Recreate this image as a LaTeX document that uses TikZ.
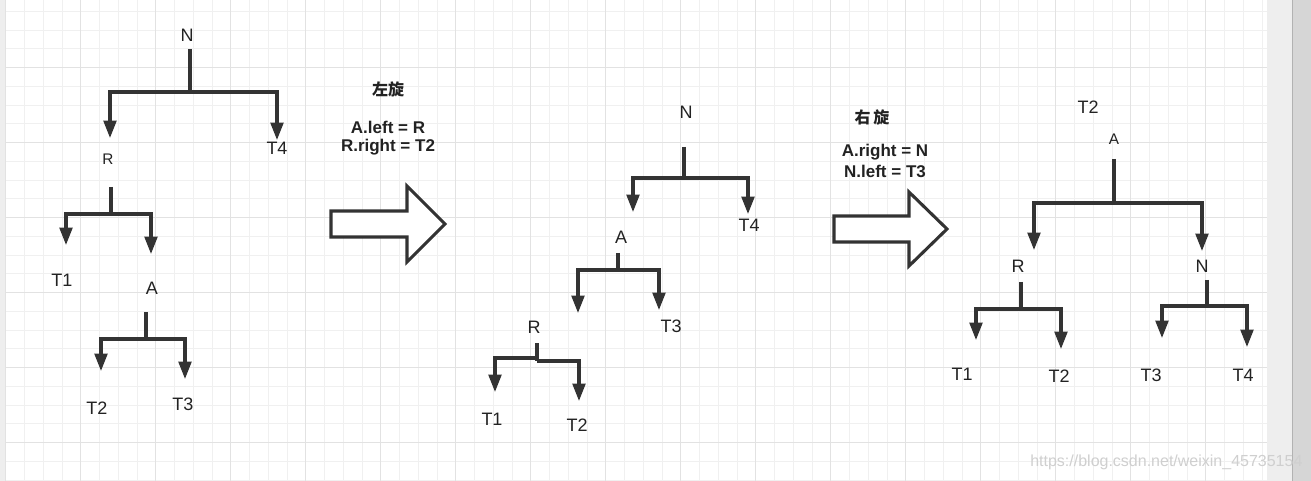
\documentclass[tikz,border=0pt]{standalone}
\usepackage{fontspec}
\setmainfont{Liberation Sans}
\newfontfamily\cjk{Noto Sans CJK SC}
\usetikzlibrary{arrows.meta}
\definecolor{minorgrid}{HTML}{F0F0F0}
\definecolor{majorgrid}{HTML}{E2E2E2}
\definecolor{ink}{HTML}{333333}
\definecolor{txt}{HTML}{222222}
\definecolor{side}{HTML}{EEEEEE}
\definecolor{bar}{HTML}{D6D6D6}
\definecolor{wm}{HTML}{CFCFCF}
\tikzset{
  lbl/.style={font=\fontsize{13.5}{16}\selectfont, text=txt, inner sep=0pt},
  slbl/.style={font=\fontsize{11.5}{14}\selectfont, text=txt, inner sep=0pt},
  note/.style={font=\fontsize{12.75}{15}\selectfont\bfseries, text=txt, inner sep=0pt, align=center},
  cnote/.style={font=\cjk\bfseries\fontsize{12}{14}\selectfont, text=txt, inner sep=0pt},
  line/.style={draw=ink, line width=2.3pt},
  arr/.style={line, -{Triangle[length=13pt,width=9.5pt]}},
  block/.style={draw=ink, line width=2.3pt, fill=white, line join=miter},
}
\begin{document}
\begin{tikzpicture}[x=0.75pt,y=-0.75pt]
\useasboundingbox (0,0) rectangle (1311,481);
% background
\fill[white] (0,0) rectangle (1267,481);
\foreach \k [evaluate=\k as \xx using 5.8+18.75*\k] in {0,...,67}
  \draw[minorgrid, line width=0.75pt] (\xx,0) -- (\xx,481);
\foreach \k [evaluate=\k as \yy using 11.45+18.75*\k] in {0,...,25}
  \draw[minorgrid, line width=0.75pt] (0,\yy) -- (1267,\yy);
\foreach \k [evaluate=\k as \xx using 5.8+18.75*\k] in {0,4,...,64}
  \draw[majorgrid, line width=0.75pt] (\xx,0) -- (\xx,481);
\foreach \k [evaluate=\k as \yy using 11.45+18.75*\k] in {3,7,...,23}
  \draw[majorgrid, line width=0.75pt] (0,\yy) -- (1267,\yy);
\fill[side] (0,0) rectangle (5,481);
\fill[side] (1267,0) rectangle (1292,481);
\fill[bar] (1292,0) rectangle (1311,481);
\draw[gray!60, line width=0.75pt] (1292.5,0) -- (1292.5,481);

% ---------- tree 1 ----------
\node[lbl]  (aN)  at (187,35)  {N};
\node[slbl] (aR)  at (108,159) {R};
\node[lbl]  (aT4) at (277,148) {T4};
\node[lbl]  (aT1) at (62,280)  {T1};
\node[lbl]  (aA)  at (152,288) {A};
\node[lbl]  (aT2) at (97,408)  {T2};
\node[lbl]  (aT3) at (183,404) {T3};
\coordinate (aNs) at (190,49);  \coordinate (aNj) at (190,92);
\coordinate (aRt) at (110,138); \coordinate (aT4t) at (277,140);
\coordinate (aRs) at (111,187); \coordinate (aRj) at (111,214);
\coordinate (aT1t) at (66,245); \coordinate (aAt) at (151,254);
\coordinate (aAs) at (146,312); \coordinate (aAj) at (146,339);
\coordinate (aT2t) at (101,371); \coordinate (aT3t) at (185,379);
\draw[line] (aNs) -- (aNj);
\draw[arr] (aNj) -| (aRt);
\draw[arr] (aNj) -| (aT4t);
\draw[line] (aRs) -- (aRj);
\draw[arr] (aRj) -| (aT1t);
\draw[arr] (aRj) -| (aAt);
\draw[line] (aAs) -- (aAj);
\draw[arr] (aAj) -| (aT2t);
\draw[arr] (aAj) -| (aT3t);

% ---------- arrow 1 ----------
\node[cnote] (l1) at (388,89) {左旋};
\node[note]  (l1a) at (388,127) {A.left = R};
\node[note]  (l1b) at (388,147) {R.right = T2};
\draw[block] (331,211) -- (407,211) -- (407,186) -- (445,224) -- (407,262) -- (407,237) -- (331,237) -- cycle;

% ---------- tree 2 ----------
\node[lbl] (bN)  at (686,112) {N};
\node[lbl] (bT4) at (749,225) {T4};
\node[lbl] (bA)  at (621,237) {A};
\node[lbl] (bT3) at (671,326) {T3};
\node[lbl] (bR)  at (534,327) {R};
\node[lbl] (bT1) at (492,419) {T1};
\node[lbl] (bT2) at (577,425) {T2};
\coordinate (bNs) at (684,147); \coordinate (bNj) at (684,178);
\coordinate (bAt) at (633,212); \coordinate (bT4t) at (748,214);
\coordinate (bAs) at (618,253); \coordinate (bAj) at (618,270);
\coordinate (bRt) at (578,313); \coordinate (bT3t) at (659,310);
\coordinate (bRs) at (537,343); \coordinate (bRj) at (537,358);
\coordinate (bRj2) at (537,361);
\coordinate (bT1t) at (495,392); \coordinate (bT2t) at (579,401);
\draw[line] (bNs) -- (bNj);
\draw[arr] (bNj) -| (bAt);
\draw[arr] (bNj) -| (bT4t);
\draw[line] (bAs) -- (bAj);
\draw[arr] (bAj) -| (bRt);
\draw[arr] (bAj) -| (bT3t);
\draw[line] (bRs) -- (bRj2);
\draw[arr] (bRj) -| (bT1t);
\draw[arr] (bRj2) -| (bT2t);

% ---------- arrow 2 ----------
\node[cnote] (l2) at (872,117) {右\,旋};
\node[note]  (l2a) at (885,152) {A.right = N};
\node[note]  (l2b) at (885,171) {N.left = T3};
\draw[block] (834,216) -- (909,216) -- (909,192) -- (947,229) -- (909,266) -- (909,242) -- (834,242) -- cycle;

% ---------- tree 3 ----------
\node[lbl]  (cTop) at (1088,107) {T2};
\node[slbl] (cA)  at (1114,139) {A};
\node[lbl]  (cR)  at (1018,266) {R};
\node[lbl]  (cN)  at (1202,266) {N};
\node[lbl]  (cT1) at (962,374)  {T1};
\node[lbl]  (cT2) at (1059,376) {T2};
\node[lbl]  (cT3) at (1151,375) {T3};
\node[lbl]  (cT4) at (1243,375) {T4};
\coordinate (cAs) at (1114,159); \coordinate (cAj) at (1114,203);
\coordinate (cRt) at (1034,250); \coordinate (cNt) at (1202,251);
\coordinate (cRs) at (1021,282); \coordinate (cRj) at (1021,309);
\coordinate (cT1t) at (976,340); \coordinate (cT2t) at (1061,349);
\coordinate (cNs) at (1207,280); \coordinate (cNj) at (1207,306);
\coordinate (cT3t) at (1162,338); \coordinate (cT4t) at (1247,347);
\draw[line] (cAs) -- (cAj);
\draw[arr] (cAj) -| (cRt);
\draw[arr] (cAj) -| (cNt);
\draw[line] (cRs) -- (cRj);
\draw[arr] (cRj) -| (cT1t);
\draw[arr] (cRj) -| (cT2t);
\draw[line] (cNs) -- (cNj);
\draw[arr] (cNj) -| (cT3t);
\draw[arr] (cNj) -| (cT4t);

% watermark
\node[font=\fontsize{12}{14}\selectfont, text=wm, inner sep=0pt, anchor=west] (wmk) at (1030,462) {https://blog.csdn.net/weixin\_45735154};
\end{tikzpicture}
\end{document}
